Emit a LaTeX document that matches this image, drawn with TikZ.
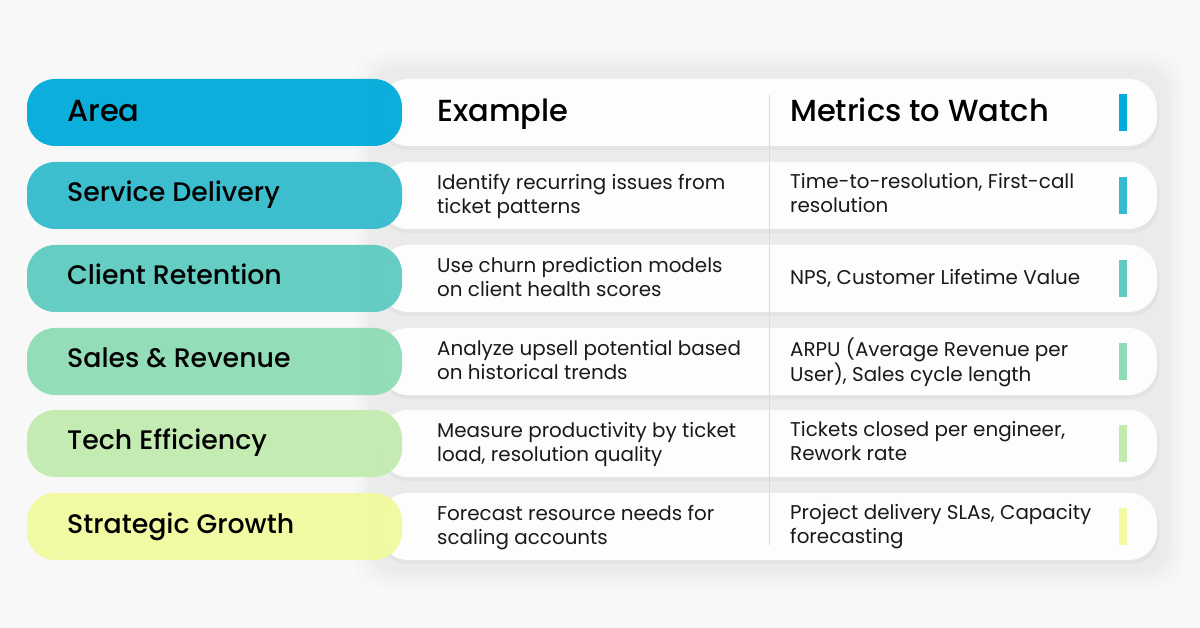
\documentclass[tikz,border=0pt]{standalone}
\usepackage{fontspec}
\setmainfont{Poppins}
\newfontfamily\pmed{Poppins}[UprightFont=* Medium]
\newcommand\bst{\rule[-5.5pt]{0pt}{15.5pt}}
\definecolor{bg}{HTML}{F8F8F8}
\definecolor{shad}{HTML}{EBEBEB}
\definecolor{card}{HTML}{FDFDFD}
\definecolor{divc}{HTML}{D8DCE2}
\definecolor{cA}{HTML}{00ABDB}
\definecolor{cB}{HTML}{34BBCD}
\definecolor{cC}{HTML}{5FCBC1}
\definecolor{cD}{HTML}{8EDDB6}
\definecolor{cE}{HTML}{C2EBAF}
\definecolor{cF}{HTML}{F1FA9F}
\tikzset{
  pill/.style={rounded corners=28pt, draw=none},
  lbl/.style={anchor=base west, inner sep=0pt, text=black, font=\pmed\fontsize{26.8}{32}\selectfont},
  hdr/.style={anchor=base west, inner sep=0pt, text=black, font=\pmed\fontsize{30.5}{36}\selectfont},
  body/.style={anchor=west, inner sep=0pt, align=left, text=black!90, font=\fontsize{19.9}{23.8}\selectfont},
}
\begin{document}
\begin{tikzpicture}[x=1pt,y=-1pt]
\useasboundingbox (0,0) rectangle (1200,628);
\fill[bg] (0,0) rectangle (1200,628);
% soft shadow behind card group
\foreach \d/\o in {18/0.15,13/0.25,8/0.4,4/0.6,0/1}{
  \fill[shad, opacity=\o, rounded corners=30pt] (372-\d,70-\d) rectangle (1166+\d,570+\d);
}
% rows
\foreach \t/\c [count=\i] in {79/cA,162/cB,245/cC,328/cD,410/cE,493/cF}{
  \fill[black, opacity=0.03, rounded corners=28pt] (380,\t+3) rectangle (1159,\t+71);
  \fill[card, pill] (380,\t) rectangle (1157,\t+67);
  \fill[\c, pill, opacity=0.95] (27,\t) rectangle (402,\t+67);
  \fill[\c] (1119,\t+15) rectangle (1127,\t+52);
}
\draw[divc, line width=0.8pt] (769,95) -- (769,545);
% header
\node[hdr] (hA) at (67,122) {Area};
\node[hdr] (hB) at (437,122) {Example};
\node[hdr] (hC) at (790,122) {Metrics to Watch};
% labels
\node[lbl] (l2) at (67,201.5) {Service Delivery};
\node[lbl] (l3) at (67,285) {Client Retention};
\node[lbl] (l4) at (67,368) {Sales \& Revenue};
\node[lbl] (l5) at (67,449) {Tech Efficiency};
\node[lbl] (l6) at (67,533) {Strategic Growth};
% examples
\node[body] (e2) at (437,196.5) {\bst Identify recurring issues from\\\bst ticket patterns};
\node[body] (e3) at (437,279.5) {\bst Use churn prediction models\\\bst on client health scores};
\node[body] (e4) at (437,362.5) {\bst Analyze upsell potential based\\\bst on historical trends};
\node[body] (e5) at (437,444.5) {\bst Measure productivity by ticket\\\bst load, resolution quality};
\node[body] (e6) at (437,527.5) {\bst Forecast resource needs for\\\bst scaling accounts};
% metrics
\node[body] (m2) at (790,196) {\bst Time-to-resolution, First-call\\\bst resolution};
\node[body] (m3) at (790,278.5) {NPS, Customer Lifetime Value};
\node[body] (m4) at (790,362) {\bst ARPU (Average Revenue per\\\bst User), Sales cycle length};
\node[body] (m5) at (790,444) {\bst Tickets closed per engineer,\\\bst Rework rate};
\node[body] (m6) at (790,527) {\bst Project delivery SLAs, Capacity\\\bst forecasting};
\end{tikzpicture}
\end{document}
